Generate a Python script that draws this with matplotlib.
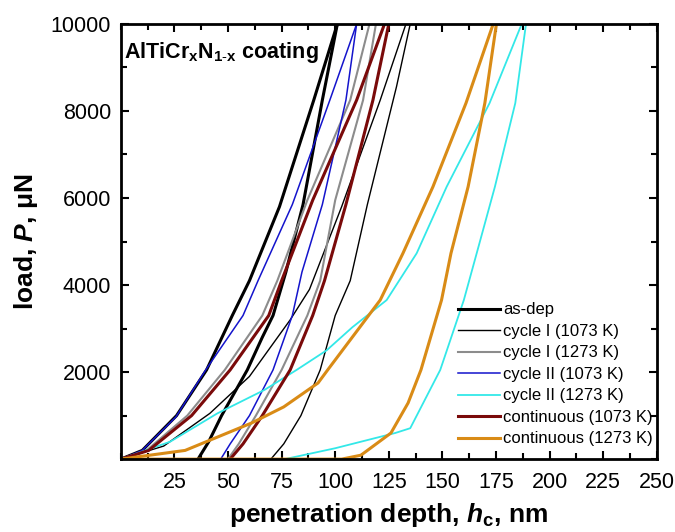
"""Load-displacement curves for AlTiCrN coatings after different anneals."""
import matplotlib
matplotlib.use("Agg")
import matplotlib.pyplot as plt
from matplotlib.ticker import MultipleLocator

# depth in nm, load in uN
asdep_load_h = [0, 10, 26, 40, 52, 60, 74, 90, 101]
asdep_load_p = [0, 200, 1000, 2050, 3300, 4100, 5800, 8250, 10000]
asdep_unload_h = [101, 94, 85, 77, 71, 66, 59, 47, 41, 36]
asdep_unload_p = [10000, 8250, 5850, 4300, 3300, 2800, 2050, 1000, 400, 0]

c1_1073_load_h = [0, 20, 41.5, 60, 79, 88, 103, 121, 133]
c1_1073_load_p = [0, 300, 1050, 1900, 3200, 3900, 5800, 8250, 10000]
c1_1073_unload_h = [135, 128.6, 115, 107, 100, 93, 84, 76, 70]
c1_1073_unload_p = [10000, 8560, 5850, 4100, 3300, 2050, 1000, 350, 0]

c1_1273_load_h = [0, 12, 31, 48.5, 66, 73, 87, 107, 116]
c1_1273_load_p = [0, 200, 1000, 2050, 3300, 4100, 5950, 8250, 10000]
c1_1273_unload_h = [119, 113, 100, 93, 87, 75, 63, 55, 50]
c1_1273_unload_p = [10000, 8250, 5950, 4100, 3300, 2050, 1000, 350, 0]

c2_1073_load_h = [0, 10, 25.7, 39.6, 57, 64, 80, 97.5, 110]
c2_1073_load_p = [0, 200, 970, 2050, 3300, 4100, 5850, 8250, 10000]
c2_1073_unload_h = [110, 105, 94, 84.5, 80, 71, 60, 51, 46.6]
c2_1073_unload_p = [10000, 8250, 5850, 4300, 3300, 2050, 1000, 350, 0]

c2_1273_load_h = [0, 23, 45, 67, 82, 96, 108, 124, 138, 152, 172, 187]
c2_1273_load_p = [0, 400, 1050, 1590, 2050, 2500, 3030, 3655, 4730, 6260, 8180, 10000]
c2_1273_unload_h = [189, 184, 174.5, 166, 160, 149, 135, 128, 100, 76.5]
c2_1273_unload_p = [10000, 8180, 6260, 4730, 3655, 2050, 710, 600, 250, 0]

cont_1073_load_h = [0, 13, 33, 51, 69, 75, 89.5, 110, 123]
cont_1073_load_p = [0, 200, 1000, 2050, 3300, 4100, 5950, 8250, 10000]
cont_1073_unload_h = [125, 117.6, 105, 95, 89.5, 79, 66, 57, 51]
cont_1073_unload_p = [10000, 8250, 5850, 4100, 3300, 2050, 1000, 350, 0]

cont_1273_load_h = [0, 30, 61, 76, 92, 96.5, 121, 131.6, 145.6, 161, 173.7]
cont_1273_load_p = [0, 200, 830, 1200, 1750, 2050, 3655, 4730, 6260, 8180, 10000]
cont_1273_unload_h = [175.2, 169.8, 162, 154, 149.6, 140, 134, 126, 112, 103, 0]
cont_1273_unload_p = [10000, 8180, 6260, 4730, 3655, 2050, 1290, 600, 90, 0, 0]

labels = ["as-dep", "cycle I (1073 K)", "cycle I (1273 K)", "cycle II (1073 K)",
          "cycle II (1273 K)", "continuous (1073 K)", "continuous (1273 K)"]
x_ticks = [25, 50, 75, 100, 125, 150, 175, 200, 225, 250]
y_ticks = [2000, 4000, 6000, 8000, 10000]

plt.rcParams["font.family"] = ["Liberation Sans", "DejaVu Sans"]
plt.rcParams["mathtext.fontset"] = "custom"
plt.rcParams["mathtext.rm"] = "Liberation Sans"
plt.rcParams["mathtext.it"] = "Liberation Sans:italic"
plt.rcParams["mathtext.bf"] = "Liberation Sans:bold"
plt.rcParams["mathtext.bfit"] = "Liberation Sans:bold:italic"

curves = [
    (asdep_load_h, asdep_load_p, asdep_unload_h, asdep_unload_p, "black", 2.2),
    (c1_1073_load_h, c1_1073_load_p, c1_1073_unload_h, c1_1073_unload_p, "black", 1.0),
    (c1_1273_load_h, c1_1273_load_p, c1_1273_unload_h, c1_1273_unload_p, "#8c8c8c", 1.5),
    (c2_1073_load_h, c2_1073_load_p, c2_1073_unload_h, c2_1073_unload_p, "#1414cc", 1.1),
    (c2_1273_load_h, c2_1273_load_p, c2_1273_unload_h, c2_1273_unload_p, "#33e8e8", 1.3),
    (cont_1073_load_h, cont_1073_load_p, cont_1073_unload_h, cont_1073_unload_p, "#7a0a0a", 2.2),
    (cont_1273_load_h, cont_1273_load_p, cont_1273_unload_h, cont_1273_unload_p, "#d98b16", 2.2),
]

fig = plt.figure(figsize=(6.75, 5.32), dpi=100)
ax = fig.add_axes([0.179, 0.137, 0.794, 0.818])

for (lh, lp, uh, up, color, lw), label in zip(curves, labels):
    ax.plot(lh, lp, color=color, lw=lw, label=label)
    ax.plot(uh, up, color=color, lw=lw)

ax.set_xlim(0, 250)
ax.set_ylim(0, 10000)
ax.set_xticks(x_ticks)
ax.set_yticks(y_ticks)
ax.xaxis.set_minor_locator(MultipleLocator(12.5))
ax.yaxis.set_minor_locator(MultipleLocator(1000))
ax.tick_params(which="both", direction="in", top=True, right=True,
               width=1.5, labelsize=15.5)
ax.tick_params(which="major", length=6)
ax.tick_params(which="minor", length=4)
ax.tick_params(axis="x", pad=9)
ax.tick_params(axis="y", pad=7)
for s in ax.spines.values():
    s.set_linewidth(2)

ax.set_xlabel(r"penetration depth, $\mathbfit{h}_\mathbf{c}$, nm",
              fontsize=19, fontweight="bold", labelpad=6)
ax.set_ylabel(r"load, $\mathbfit{P}$, μN", fontsize=19, fontweight="bold", labelpad=8)

ax.text(0.005, 0.935, r"AlTiCr$_\mathbf{x}$N$_\mathbf{1\text{-}x}$ coating",
        transform=ax.transAxes, fontsize=15.5, fontweight="bold", va="center")

ax.legend(loc="upper left", bbox_to_anchor=(0.63, 0.36), frameon=False,
          fontsize=12, handlelength=2.5, handletextpad=0.2, labelspacing=0.39,
          borderpad=0, borderaxespad=0)

fig.savefig("out.png", dpi=100)
